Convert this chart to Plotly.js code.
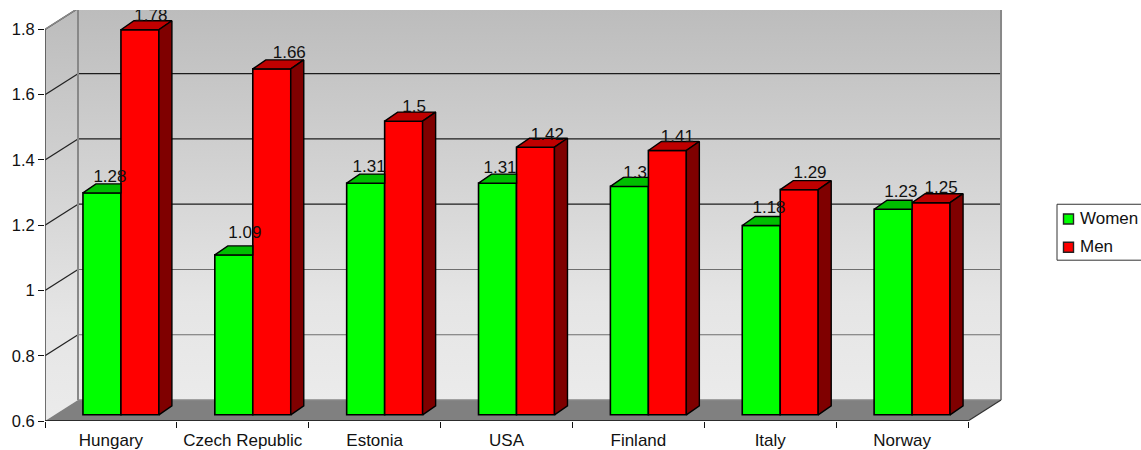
<!DOCTYPE html>
<html>
<head>
<meta charset="utf-8">
<script src="https://cdn.plot.ly/plotly-3.0.1.min.js"></script>
<style>html,body{margin:0;padding:0;background:#fff;overflow:hidden}</style>
</head>
<body>
<div id="chart" style="width:1141px;height:450px"></div>
<script>
// Values per country
const categories = ["Hungary", "Czech Republic", "Estonia", "USA", "Finland", "Italy", "Norway"];
const women = [1.28, 1.09, 1.31, 1.31, 1.3, 1.18, 1.23];
const men = [1.78, 1.66, 1.5, 1.42, 1.41, 1.29, 1.25];
const yTicks = [0.6, 0.8, 1, 1.2, 1.4, 1.6, 1.8];

// Value label placement, in pixels from the top centre of each bar
const womenLabelShift = [8, 11, 3.5, 2.5, 5.7, 7.8, 7.7];
const menLabelShift = [11, 17.5, 10.4, 11.8, 10, 10.8, 10];
const womenLabelRise = [15, 21.5, 15.5, 14.5, 12.5, 16.5, 16.5];
const menLabelRise = [12.8, 15.3, 13.5, 11.5, 12.5, 15.5, 13.5];

// Plot frame in pixels
const W = 1141, H = 450;
const plotLeft = 45, plotRight = 1003, plotTop = 10, plotBottom = 421.5;
const pxPerCat = 131.86, pxPerUnit = 326.75;
const yMin = 0.6;
const toX = px => px / pxPerCat, toY = px => px / pxPerUnit;

// Pseudo-3D depth: the whole box, and the bars standing inside it
const boxDx = toX(33), boxDy = toY(21);
const barDx = toX(13), barDy = toY(9);
const barPlaneDx = toX(10), barPlaneDy = toY(6.2);
const barW = 0.288;

const xStart = -0.5, xEnd = xStart + categories.length;
const xRange = [xStart, xStart + toX(plotRight - plotLeft)];
const yRange = [yMin, yMin + toY(plotBottom - plotTop)];
const yMax = yTicks[yTicks.length - 1];

const GREEN = "#00ff00", GREEN_TOP = "#00bf00";
const RED = "#ff0000", RED_TOP = "#bf0000", RED_SIDE = "#7f0000";
const WALL = [[0, "#ebebeb"], [0.25, "#e5e5e5"], [0.5, "#d7d7d7"], [1, "#bcbcbc"]];
const EDGE = "#888888";

const polygon = (x, y, fill) => ({
  type: "scatter", mode: "lines", x, y, fill: "toself", fillcolor: fill,
  line: {width: 0}, hoverinfo: "skip", showlegend: false
});
const line = (x, y, color, width) => ({
  type: "scatter", mode: "lines", x, y,
  line: {color, width}, hoverinfo: "skip", showlegend: false
});

const traces = [];

// Back wall, side wall and floor
const backX = xStart + boxDx, backXEnd = xEnd + boxDx;
const backWall = polygon([backX, backXEnd, backXEnd, backX, backX],
  [yMin + boxDy, yMin + boxDy, yMax + boxDy, yMax + boxDy, yMin + boxDy], "#ccc");
backWall.fillgradient = {type: "vertical", colorscale: WALL};
traces.push(backWall);
const sideWall = polygon([xStart, backX, backX, xStart, xStart],
  [yMin, yMin + boxDy, yMax + boxDy, yMax, yMin], "#ccc");
sideWall.fillgradient = {type: "vertical", colorscale: WALL};
traces.push(sideWall);
traces.push(polygon([xStart, backX, backXEnd, xEnd, xStart],
  [yMin, yMin + boxDy, yMin + boxDy, yMin, yMin], "#808080"));

// Grid lines run along the side wall and then across the back wall
yTicks.slice(1).forEach(v => {
  const color = v <= 1 ? "#6e6e6e" : "#1c1c1c";
  traces.push(line([xStart, backX], [v, v + boxDy], "#222222", 1.2));
  traces.push(line([backX, backXEnd], [v + boxDy, v + boxDy], color, 1.2));
});

// Box edges and the two front axis lines
traces.push(line([xStart, backX], [yMax, yMax + boxDy], EDGE, 1.5));
traces.push(line([backX, backX], [yMin + boxDy, yMax + boxDy], EDGE, 2));
traces.push(line([backXEnd, backXEnd], [yMin + boxDy, yMax + boxDy], EDGE, 2));
traces.push(line([backX, backXEnd], [yMin + boxDy, yMin + boxDy], EDGE, 1.5));
traces.push(line([xEnd, backXEnd], [yMin, yMin + boxDy], "#333333", 1.2));
const valueAxisLine = line([xStart, xStart], [yMin, yMax], "#444444", 1.5);
valueAxisLine.cliponaxis = false;
traces.push(valueAxisLine);
const categoryAxisLine = line([xStart, xEnd], [yMin, yMin], "#111111", 1.6);
categoryAxisLine.cliponaxis = false;
traces.push(categoryAxisLine);

// Front faces of the bars, drawn on the axes shifted into the bar plane
const barIdx = categories.map((_, i) => i);
const barTrace = (name, values, color, offset) => ({
  type: "bar", name, x: barIdx, y: values.map(v => v - yMin), base: yMin,
  width: barW, offset, xaxis: "x2", yaxis: "y2",
  marker: {color, line: {color: "#000000", width: 1.6}},
  hoverinfo: "x+text", text: values.map(String), textposition: "none"
});
traces.push(barTrace("Women", women, GREEN, -barW));
traces.push(barTrace("Men", men, RED, 0));

// Top and side faces; the men's bar hides all of the women's right part
function facePolys(values, x0Of, x1Of, mode) {
  const xs = [], ys = [];
  values.forEach((v, i) => {
    const x0 = x0Of(i), x1 = x1Of(i);
    if (mode === "side") {
      xs.push(x1, x1 + barDx, x1 + barDx, x1, x1, null);
      ys.push(yMin, yMin + barDy, v + barDy, v, yMin, null);
    } else {
      const farX = mode === "clipped" ? x1 : x1 + barDx;
      xs.push(x0, x0 + barDx, farX, x1, x0, null);
      ys.push(v, v + barDy, v + barDy, v, v, null);
    }
  });
  return [xs, ys];
}
function faceTrace(values, x0Of, x1Of, mode, fill) {
  const [x, y] = facePolys(values, x0Of, x1Of, mode);
  return {
    type: "scatter", mode: "lines", x, y, xaxis: "x2", yaxis: "y2",
    fill: "toself", fillcolor: fill, line: {color: "#000000", width: 1.4},
    hoverinfo: "skip", showlegend: false
  };
}
traces.push(faceTrace(women, i => i - barW, i => i, "clipped", GREEN_TOP));
traces.push(faceTrace(men, i => i, i => i + barW, "top", RED_TOP));
traces.push(faceTrace(men, i => i, i => i + barW, "side", RED_SIDE));

// Value labels above each bar
const labelTrace = (values, centre, shift, rise) => ({
  type: "scatter", mode: "text", xaxis: "x2", yaxis: "y2",
  x: values.map((_, i) => centre(i) + toX(shift[i])),
  y: values.map((v, i) => v + toY(rise[i])),
  text: values.map(String), textposition: "middle center",
  textfont: {family: "Liberation Sans, Arial, sans-serif", size: 17, color: "#111111"},
  hoverinfo: "skip", showlegend: false
});
traces.push(labelTrace(women, i => i - barW / 2, womenLabelShift, womenLabelRise));
traces.push(labelTrace(men, i => i + barW / 2, menLabelShift, menLabelRise));

// Legend box, drawn in pixel positions on the paper
const plotW = plotRight - plotLeft, plotH = plotBottom - plotTop;
const paperX = px => (px - plotLeft) / plotW;
const paperY = py => (plotBottom - py) / plotH;
const rect = (x0, y0, x1, y1, fill, color, width) => ({
  type: "rect", xref: "paper", yref: "paper",
  x0: paperX(x0), x1: paperX(x1), y0: paperY(y1), y1: paperY(y0),
  fillcolor: fill, line: {color, width}, layer: "above"
});
const legendEntries = [
  {name: "Women", color: GREEN, y: 219.3},
  {name: "Men", color: RED, y: 247.5}
];
const shapes = [rect(1057, 204.5, 1150, 260.5, "#ffffff", "#333333", 1)];
const annotations = [];
legendEntries.forEach(e => {
  shapes.push(rect(1063.5, e.y - 5, 1073.5, e.y + 5, e.color, "#222222", 1.4));
  annotations.push({
    xref: "paper", yref: "paper", x: paperX(1078), y: paperY(e.y - 0.5),
    text: e.name, showarrow: false, xanchor: "left", yanchor: "middle",
    font: {family: "Liberation Sans, Arial, sans-serif", size: 17, color: "#111111"}
  });
});

const layout = {
  width: W, height: H,
  margin: {l: plotLeft, r: W - plotRight, t: plotTop, b: H - plotBottom, pad: 0},
  paper_bgcolor: "#ffffff", plot_bgcolor: "rgba(0,0,0,0)",
  showlegend: false, hovermode: "closest", dragmode: false,
  font: {family: "Liberation Sans, Arial, sans-serif", color: "#111111"},
  xaxis: {
    type: "linear", range: xRange, showgrid: false, zeroline: false, showline: false,
    tickmode: "array", tickvals: barIdx, ticktext: categories,
    ticks: "outside", ticklen: 4, tickcolor: "rgba(0,0,0,0)",
    tickfont: {size: 17}, automargin: false,
    minor: {
      tickmode: "array", tickvals: barIdx.concat(categories.length).map(i => i - 0.5),
      ticks: "outside", ticklen: 6, tickwidth: 1.2, tickcolor: "#111111", showgrid: false
    }
  },
  yaxis: {
    type: "linear", range: yRange, showgrid: false, zeroline: false, showline: false,
    tickmode: "array", tickvals: yTicks, ticktext: yTicks.map(String),
    ticks: "outside", ticklen: 6, tickwidth: 1.2, tickcolor: "#111111",
    tickfont: {size: 16.5}, automargin: false
  },
  xaxis2: {
    type: "linear", overlaying: "x", anchor: "y2", visible: false,
    range: [xRange[0] - barPlaneDx, xRange[1] - barPlaneDx], fixedrange: true
  },
  yaxis2: {
    type: "linear", overlaying: "y", anchor: "x2", visible: false,
    range: [yRange[0] - barPlaneDy, yRange[1] - barPlaneDy], fixedrange: true
  },
  shapes, annotations
};

Plotly.newPlot("chart", traces, layout, {displayModeBar: false});
</script>
</body>
</html>
